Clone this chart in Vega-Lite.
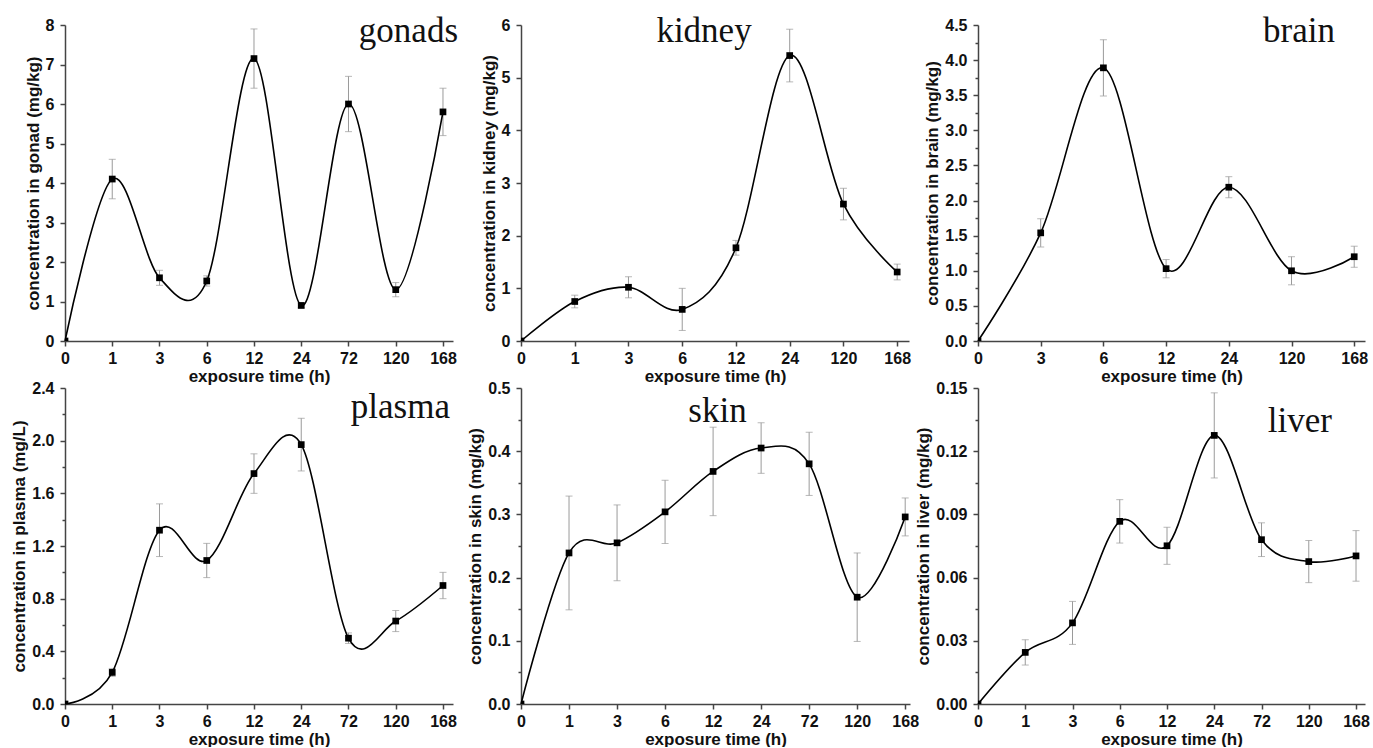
{
  "$schema": "https://vega.github.io/schema/vega-lite/v6.json",
  "background": "white",
  "padding": {"left": 10, "top": 14, "right": 2, "bottom": 0},
  "bounds": "flush",
  "columns": 3,
  "spacing": {"row": 47, "column": 68},
  "datasets": {
    "gonads": [
      {"hour": 0, "conc": 0, "err": 0},
      {"hour": 1, "conc": 4.1, "err": 0.5},
      {"hour": 3, "conc": 1.6, "err": 0.19},
      {"hour": 6, "conc": 1.52, "err": 0.13},
      {"hour": 12, "conc": 7.15, "err": 0.75},
      {"hour": 24, "conc": 0.9, "err": 0.06},
      {"hour": 72, "conc": 6.0, "err": 0.7},
      {"hour": 120, "conc": 1.3, "err": 0.18},
      {"hour": 168, "conc": 5.8, "err": 0.6}
    ],
    "kidney": [
      {"hour": 0, "conc": 0, "err": 0},
      {"hour": 1, "conc": 0.75, "err": 0.12},
      {"hour": 3, "conc": 1.02, "err": 0.2},
      {"hour": 6, "conc": 0.6, "err": 0.4},
      {"hour": 12, "conc": 1.77, "err": 0.14},
      {"hour": 24, "conc": 5.42, "err": 0.5},
      {"hour": 120, "conc": 2.6, "err": 0.3},
      {"hour": 168, "conc": 1.31, "err": 0.15}
    ],
    "brain": [
      {"hour": 0, "conc": 0, "err": 0},
      {"hour": 3, "conc": 1.54, "err": 0.2},
      {"hour": 6, "conc": 3.89, "err": 0.4},
      {"hour": 12, "conc": 1.03, "err": 0.13},
      {"hour": 24, "conc": 2.19, "err": 0.15},
      {"hour": 120, "conc": 1.0, "err": 0.2},
      {"hour": 168, "conc": 1.2, "err": 0.15}
    ],
    "plasma": [
      {"hour": 0, "conc": 0, "err": 0},
      {"hour": 1, "conc": 0.24, "err": 0.03},
      {"hour": 3, "conc": 1.32, "err": 0.2},
      {"hour": 6, "conc": 1.09, "err": 0.13},
      {"hour": 12, "conc": 1.75, "err": 0.15},
      {"hour": 24, "conc": 1.97, "err": 0.2},
      {"hour": 72, "conc": 0.5, "err": 0.04},
      {"hour": 120, "conc": 0.63, "err": 0.08},
      {"hour": 168, "conc": 0.9, "err": 0.1}
    ],
    "skin": [
      {"hour": 0, "conc": 0, "err": 0},
      {"hour": 1, "conc": 0.239, "err": 0.09},
      {"hour": 3, "conc": 0.255, "err": 0.06},
      {"hour": 6, "conc": 0.304, "err": 0.05},
      {"hour": 12, "conc": 0.368, "err": 0.07},
      {"hour": 24, "conc": 0.405, "err": 0.04},
      {"hour": 72, "conc": 0.38, "err": 0.05},
      {"hour": 120, "conc": 0.169, "err": 0.07},
      {"hour": 168, "conc": 0.296, "err": 0.03}
    ],
    "liver": [
      {"hour": 0, "conc": 0, "err": 0},
      {"hour": 1, "conc": 0.0245, "err": 0.006},
      {"hour": 3, "conc": 0.0385, "err": 0.0102},
      {"hour": 6, "conc": 0.0867, "err": 0.0103},
      {"hour": 12, "conc": 0.0751, "err": 0.0088},
      {"hour": 24, "conc": 0.1275, "err": 0.0202},
      {"hour": 72, "conc": 0.078, "err": 0.008},
      {"hour": 120, "conc": 0.0676, "err": 0.01},
      {"hour": 168, "conc": 0.0703, "err": 0.012}
    ]
  },
  "concat": [
    {
      "width": 388, "height": 316,
      "title": {"text": "gonads", "anchor": "end", "dx": 5, "dy": 36},
      "data": {"name": "gonads"},
      "encoding": {
        "x": {"field": "hour", "type": "ordinal", "scale": {"type": "point", "domain": [0, 1, 3, 6, 12, 24, 72, 120, 168], "padding": 0.106, "align": 0}, "axis": {"title": "exposure time (h)", "labelAngle": 0}},
        "y": {"field": "conc", "type": "quantitative", "scale": {"domain": [0, 8], "nice": false},
          "axis": {"title": "concentration in gonad (mg/kg)", "format": "d", "values": [0,0.5,1,1.5,2,2.5,3,3.5,4,4.5,5,5.5,6,6.5,7,7.5,8], "labelExpr": "round(datum.value*2) % 2 == 1 ? '' : datum.label", "tickSize": {"condition": {"test": "round(datum.value*2) % 2 == 1", "value": 3}, "value": 5}}}
      },
      "layer": [
        {"mark": {"type": "errorbar", "clip": true, "color": "#9a9a9a", "thickness": 1, "ticks": {"size": 7, "color": "#9a9a9a"}}, "encoding": {"yError": {"field": "err"}}},
        {"mark": {"type": "line", "interpolate": "cardinal", "color": "#000", "strokeWidth": 1.6}},
        {"mark": {"type": "point", "shape": "square", "filled": true, "size": 45, "color": "#000", "opacity": 1, "clip": true}}
      ]
    },
    {
      "width": 388, "height": 316,
      "title": {"text": "kidney", "anchor": "middle", "dx": -11, "dy": 36},
      "data": {"name": "kidney"},
      "encoding": {
        "x": {"field": "hour", "type": "ordinal", "scale": {"type": "point", "domain": [0, 1, 3, 6, 12, 24, 120, 168], "padding": 0.11, "align": 0}, "axis": {"title": "exposure time (h)", "labelAngle": 0}},
        "y": {"field": "conc", "type": "quantitative", "scale": {"domain": [0, 6], "nice": false},
          "axis": {"title": "concentration in kidney (mg/kg)", "format": "d", "values": [0,0.5,1,1.5,2,2.5,3,3.5,4,4.5,5,5.5,6], "labelExpr": "round(datum.value*2) % 2 == 1 ? '' : datum.label", "tickSize": {"condition": {"test": "round(datum.value*2) % 2 == 1", "value": 3}, "value": 5}}}
      },
      "layer": [
        {"mark": {"type": "errorbar", "clip": true, "color": "#9a9a9a", "thickness": 1, "ticks": {"size": 7, "color": "#9a9a9a"}}, "encoding": {"yError": {"field": "err"}}},
        {"mark": {"type": "line", "interpolate": "cardinal", "color": "#000", "strokeWidth": 1.6}},
        {"mark": {"type": "point", "shape": "square", "filled": true, "size": 45, "color": "#000", "opacity": 1, "clip": true}}
      ]
    },
    {
      "width": 387, "height": 316,
      "title": {"text": "brain", "anchor": "end", "dx": -30, "dy": 36},
      "data": {"name": "brain"},
      "encoding": {
        "x": {"field": "hour", "type": "ordinal", "scale": {"type": "point", "domain": [0, 3, 6, 12, 24, 120, 168], "padding": 0.086, "align": 0}, "axis": {"title": "exposure time (h)", "labelAngle": 0}},
        "y": {"field": "conc", "type": "quantitative", "scale": {"domain": [0, 4.5], "nice": false},
          "axis": {"title": "concentration in brain (mg/kg)", "format": ".1f", "values": [0,0.25,0.5,0.75,1,1.25,1.5,1.75,2,2.25,2.5,2.75,3,3.25,3.5,3.75,4,4.25,4.5], "labelExpr": "round(datum.value*4) % 2 == 1 ? '' : datum.label", "tickSize": {"condition": {"test": "round(datum.value*4) % 2 == 1", "value": 3}, "value": 5}}}
      },
      "layer": [
        {"mark": {"type": "errorbar", "clip": true, "color": "#9a9a9a", "thickness": 1, "ticks": {"size": 7, "color": "#9a9a9a"}}, "encoding": {"yError": {"field": "err"}}},
        {"mark": {"type": "line", "interpolate": "cardinal", "color": "#000", "strokeWidth": 1.6}},
        {"mark": {"type": "point", "shape": "square", "filled": true, "size": 45, "color": "#000", "opacity": 1, "clip": true}}
      ]
    },
    {
      "width": 388, "height": 316,
      "title": {"text": "plasma", "anchor": "end", "dx": -3, "dy": 49},
      "data": {"name": "plasma"},
      "encoding": {
        "x": {"field": "hour", "type": "ordinal", "scale": {"type": "point", "domain": [0, 1, 3, 6, 12, 24, 72, 120, 168], "padding": 0.106, "align": 0}, "axis": {"title": "exposure time (h)", "labelAngle": 0}},
        "y": {"field": "conc", "type": "quantitative", "scale": {"domain": [0, 2.4], "nice": false},
          "axis": {"title": "concentration in plasma (mg/L)", "format": ".1f", "values": [0,0.2,0.4,0.6,0.8,1.0,1.2,1.4,1.6,1.8,2.0,2.2,2.4], "labelExpr": "round(datum.value*5) % 2 == 1 ? '' : datum.label", "tickSize": {"condition": {"test": "round(datum.value*5) % 2 == 1", "value": 3}, "value": 5}}}
      },
      "layer": [
        {"mark": {"type": "errorbar", "clip": true, "color": "#9a9a9a", "thickness": 1, "ticks": {"size": 7, "color": "#9a9a9a"}}, "encoding": {"yError": {"field": "err"}}},
        {"mark": {"type": "line", "interpolate": "cardinal", "color": "#000", "strokeWidth": 1.6}},
        {"mark": {"type": "point", "shape": "square", "filled": true, "size": 45, "color": "#000", "opacity": 1, "clip": true}}
      ]
    },
    {
      "width": 389, "height": 316,
      "title": {"text": "skin", "anchor": "middle", "dx": 2, "dy": 53},
      "data": {"name": "skin"},
      "encoding": {
        "x": {"field": "hour", "type": "ordinal", "scale": {"type": "point", "domain": [0, 1, 3, 6, 12, 24, 72, 120, 168], "padding": 0.05, "align": 0}, "axis": {"title": "exposure time (h)", "labelAngle": 0}},
        "y": {"field": "conc", "type": "quantitative", "scale": {"domain": [0, 0.5], "nice": false},
          "axis": {"title": "concentration in skin (mg/kg)", "format": ".1f", "values": [0,0.05,0.1,0.15,0.2,0.25,0.3,0.35,0.4,0.45,0.5], "labelExpr": "round(datum.value*20) % 2 == 1 ? '' : datum.label", "tickSize": {"condition": {"test": "round(datum.value*20) % 2 == 1", "value": 3}, "value": 5}}}
      },
      "layer": [
        {"mark": {"type": "errorbar", "clip": true, "color": "#9a9a9a", "thickness": 1, "ticks": {"size": 7, "color": "#9a9a9a"}}, "encoding": {"yError": {"field": "err"}}},
        {"mark": {"type": "line", "interpolate": "cardinal", "color": "#000", "strokeWidth": 1.6}},
        {"mark": {"type": "point", "shape": "square", "filled": true, "size": 45, "color": "#000", "opacity": 1, "clip": true}}
      ]
    },
    {
      "width": 387, "height": 316,
      "title": {"text": "liver", "anchor": "end", "dx": -33, "dy": 63},
      "data": {"name": "liver"},
      "encoding": {
        "x": {"field": "hour", "type": "ordinal", "scale": {"type": "point", "domain": [0, 1, 3, 6, 12, 24, 72, 120, 168], "padding": 0.095, "align": 0}, "axis": {"title": "exposure time (h)", "labelAngle": 0}},
        "y": {"field": "conc", "type": "quantitative", "scale": {"domain": [0, 0.15], "nice": false},
          "axis": {"title": "concentration in liver (mg/kg)", "format": ".2f", "values": [0,0.015,0.03,0.045,0.06,0.075,0.09,0.105,0.12,0.135,0.15], "labelExpr": "round(datum.value/0.015) % 2 == 1 ? '' : datum.label", "tickSize": {"condition": {"test": "round(datum.value/0.015) % 2 == 1", "value": 3}, "value": 5}}}
      },
      "layer": [
        {"mark": {"type": "errorbar", "clip": true, "color": "#9a9a9a", "thickness": 1, "ticks": {"size": 7, "color": "#9a9a9a"}}, "encoding": {"yError": {"field": "err"}}},
        {"mark": {"type": "line", "interpolate": "cardinal", "color": "#000", "strokeWidth": 1.6}},
        {"mark": {"type": "point", "shape": "square", "filled": true, "size": 45, "color": "#000", "opacity": 1, "clip": true}}
      ]
    }
  ],
  "config": {
    "view": {"stroke": null},
    "axis": {
      "grid": false,
      "domainColor": "#444", "domainWidth": 1.5,
      "tickColor": "#444", "tickWidth": 1.5, "tickSize": 5,
      "labelFont": "Liberation Sans", "labelFontWeight": "bold", "labelFontSize": 16, "labelColor": "#111", "labelOverlap": false,
      "titleFont": "Liberation Sans", "titleFontWeight": "bold", "titleFontSize": 17, "titleColor": "#111"
    },
    "axisX": {"labelPadding": 4, "titlePadding": 2},
    "axisY": {"labelPadding": 6, "titlePadding": 3},
    "title": {"font": "Liberation Serif", "fontSize": 35, "fontWeight": "normal", "color": "#111", "offset": 0, "baseline": "alphabetic", "frame": "group"}
  }
}
